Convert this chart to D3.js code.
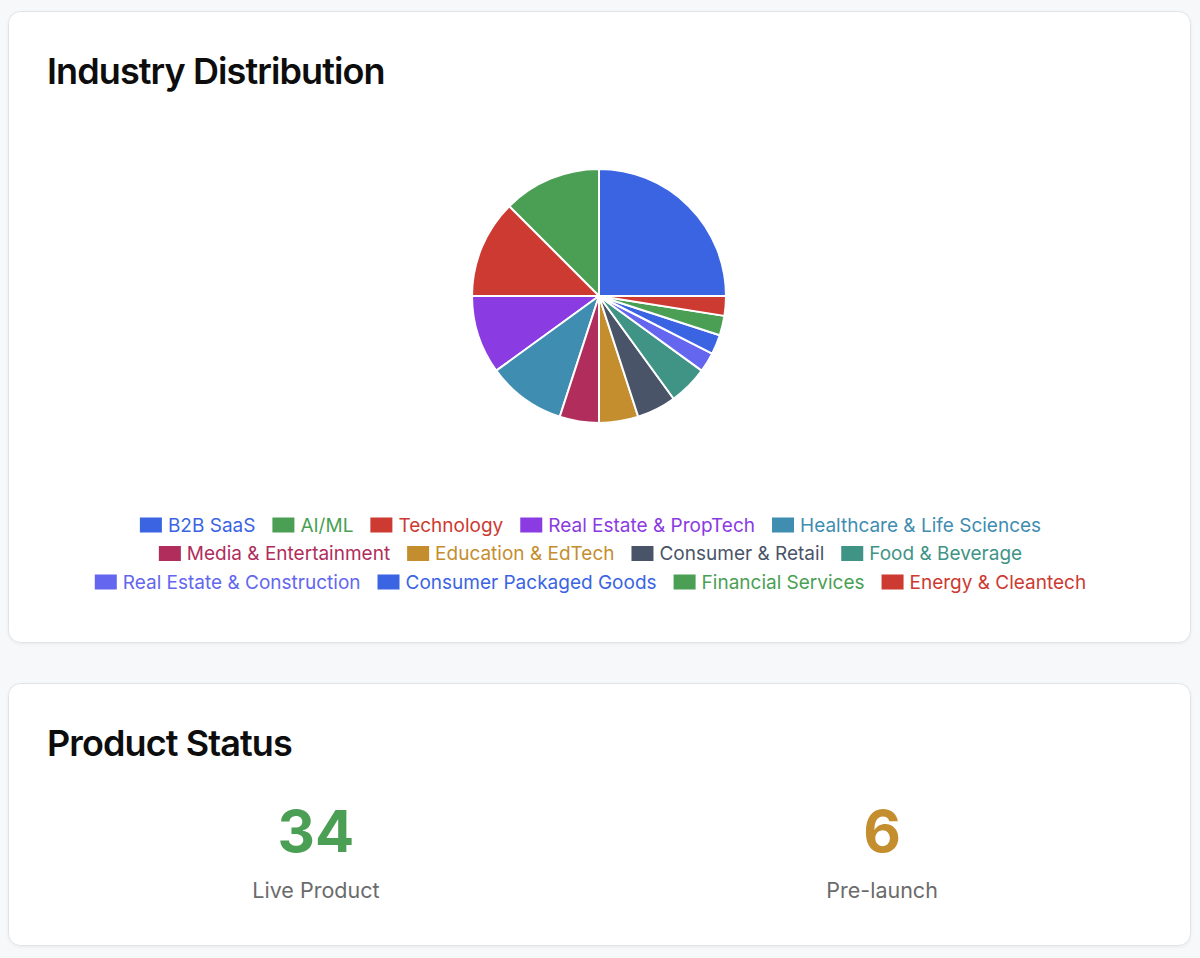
<!DOCTYPE html>
<html>
<head>
<meta charset="utf-8">
<script src="https://cdn.jsdelivr.net/npm/d3@7"></script>
<style>
  html, body { margin: 0; padding: 0; background: #f7f8fa; }
  svg { display: block; font-family: Inter, "Noto Sans", sans-serif; }
</style>
</head>
<body>
<svg id="chart"></svg>
<script>
const svg_width = 1200;
const svg_height = 958;

// industry counts, in legend order
const industries = [
  "B2B SaaS", "AI/ML", "Technology", "Real Estate & PropTech",
  "Healthcare & Life Sciences", "Media & Entertainment", "Education & EdTech",
  "Consumer & Retail", "Food & Beverage", "Real Estate & Construction",
  "Consumer Packaged Goods", "Financial Services", "Energy & Cleantech"
];
const industry_counts = [10, 5, 5, 4, 4, 2, 2, 2, 2, 1, 1, 1, 1];
const industry_colors = [
  "#3b64e3", "#4a9f54", "#cc3a31", "#8a3be2", "#3f8db0", "#b02d5c", "#c48e2f",
  "#4a5468", "#3f9486", "#6466ef", "#3b64e3", "#4a9f54", "#cc3a31"
];

const status_labels = ["Live Product", "Pre-launch"];
const status_values = [34, 6];
const status_colors = ["#4a9f54", "#c48e2f"];

const svg = d3.select("#chart").attr("width", svg_width).attr("height", svg_height);

// soft card shadow
const defs = svg.append("defs");
const shadow = defs.append("filter").attr("id", "card-shadow")
  .attr("x", "-5%").attr("y", "-5%").attr("width", "110%").attr("height", "110%");
shadow.append("feDropShadow")
  .attr("dx", 0).attr("dy", 1).attr("stdDeviation", 1.5)
  .attr("flood-color", "#000").attr("flood-opacity", 0.06);

function drawCard(x, y, w, h) {
  svg.append("rect")
    .attr("x", x + 0.5).attr("y", y + 0.5)
    .attr("width", w).attr("height", h)
    .attr("rx", 12)
    .attr("fill", "#fff")
    .attr("stroke", "#e2e3e6")
    .attr("filter", "url(#card-shadow)");
}

function drawTitle(text, y) {
  svg.append("text")
    .attr("x", 47).attr("y", y)
    .attr("font-size", 36)
    .attr("font-weight", 600)
    .attr("letter-spacing", "-0.9px")
    .attr("fill", "#0d0d0d")
    .text(text);
}

// ---- industry card
drawCard(8, 11, 1182, 631);
drawTitle("Industry Distribution", 84);

const cx = 599, cy = 296, radius = 127;

// slices run counter-clockwise from 3 o'clock
const pie = d3.pie().sort(null)
  .startAngle(Math.PI / 2)
  .endAngle(Math.PI / 2 - 2 * Math.PI);
const arc = d3.arc().innerRadius(0).outerRadius(radius);

const pie_data = pie(industry_counts).map((d, i) => Object.assign(d, { idx: i }));

svg.append("g")
  .attr("transform", `translate(${cx},${cy})`)
  .selectAll("path")
  .data(pie_data)
  .join("path")
  .attr("d", arc)
  .attr("fill", d => industry_colors[d.idx])
  .attr("stroke", "#fff")
  .attr("stroke-width", 2)
  .attr("stroke-linejoin", "round");

// ---- legend, wrapped into centred rows
const font_size = 19;
const box_w = 22, box_h = 15, box_gap = 6, item_pad = 17;
const legend_max = 1060, row_h = 28.5, legend_top = 525;

const measure = svg.append("text").attr("font-size", font_size).attr("visibility", "hidden");
const items = industries.map((name, i) => {
  measure.text(name);
  const tw = measure.node().getComputedTextLength();
  return { name: name, i: i, w: box_w + box_gap + tw };
});
measure.remove();

const rows = [];
let current = [], current_w = 0;
items.forEach(it => {
  const add = current.length ? item_pad + it.w : it.w;
  if (current.length && current_w + add > legend_max) {
    rows.push({ items: current, w: current_w });
    current = [it]; current_w = it.w;
  } else {
    current.push(it); current_w += add;
  }
});
if (current.length) rows.push({ items: current, w: current_w });

const legend = svg.append("g");
rows.forEach((row, r) => {
  // trailing padding counts in the centring, so rows sit a little left
  let x = cx - (row.w + item_pad) / 2;
  const y = legend_top + r * row_h;
  row.items.forEach(it => {
    const g = legend.append("g").attr("transform", `translate(${x},${y})`);
    g.append("rect")
      .attr("x", 0).attr("y", -box_h / 2)
      .attr("width", box_w).attr("height", box_h)
      .attr("fill", industry_colors[it.i]);
    g.append("text")
      .attr("x", box_w + box_gap).attr("y", 0)
      .attr("dy", "0.36em")
      .attr("font-size", font_size)
      .attr("fill", industry_colors[it.i])
      .text(it.name);
    x += it.w + item_pad;
  });
});

// ---- product status card
drawCard(8, 683, 1182, 262);
drawTitle("Product Status", 756);

const col = d3.scaleBand().domain(status_labels).range([47, 1151]).paddingInner(0.05);

const stats = svg.append("g").selectAll("g")
  .data(status_labels)
  .join("g")
  .attr("transform", d => `translate(${col(d) + col.bandwidth() / 2},0)`);

stats.append("text")
  .attr("y", 852)
  .attr("text-anchor", "middle")
  .attr("font-size", 58)
  .attr("font-weight", 700)
  .attr("fill", (d, i) => status_colors[i])
  .text((d, i) => status_values[i]);

stats.append("text")
  .attr("y", 898)
  .attr("text-anchor", "middle")
  .attr("font-size", 21.5)
  .attr("fill", "#6b6b6b")
  .text(d => d);
</script>
</body>
</html>
